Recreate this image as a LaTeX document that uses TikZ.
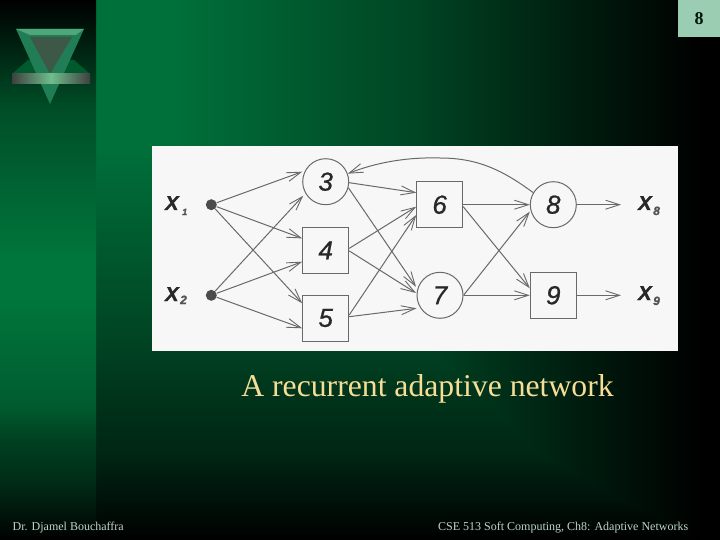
\documentclass[tikz,border=0pt]{standalone}
\usepackage{fontspec}
\setmainfont{Liberation Serif}
\newfontfamily\sansf{Liberation Sans}
\newfontface\digf[FakeBold=0.8]{Liberation Sans Italic}
\newfontface\labf[FakeBold=1.5]{Liberation Sans Bold Italic}
\usetikzlibrary{arrows.meta}
\definecolor{capcol}{RGB}{246,222,150}
\definecolor{footcol}{RGB}{190,212,198}
\definecolor{gA}{RGB}{0,112,58}
\definecolor{gL}{RGB}{0,118,60}
\definecolor{gT}{RGB}{48,150,100}
\definecolor{gE}{RGB}{32,125,85}
\definecolor{gD}{RGB}{62,88,72}
\definecolor{gB}{RGB}{110,190,140}
\definecolor{nline}{RGB}{105,105,105}
\definecolor{nink}{RGB}{40,40,40}
\definecolor{cornerc}{RGB}{155,205,178}
\pgfdeclareverticalshading{stripeshade}{100bp}{
  color(0bp)=(black);
  color(25bp)=(black);
  color(27.8bp)=(black!80!gL);
  color(30.5bp)=(black!62!gL);
  color(34.3bp)=(black!45!gL);
  color(37.5bp)=(black!22!gL);
  color(47.5bp)=(gL);
  color(51bp)=(gL);
  color(65bp)=(black!34!gL);
  color(75bp)=(black);
  color(100bp)=(black)}
\pgfdeclarehorizontalshading{panelshade}{100bp}{
  color(0bp)=(gA);
  color(25bp)=(gA);
  color(31bp)=(gA);
  color(50bp)=(black!37!gA);
  color(63bp)=(black!73!gA);
  color(73.4bp)=(black);
  color(100bp)=(black)}
\pgfdeclareverticalshading{panelvs}{100bp}{
  color(0bp)=(black);
  color(25bp)=(black);
  color(33.3bp)=(black!65!gA);
  color(38bp)=(black!55!gA);
  color(42.5bp)=(black!42!gA);
  color(50bp)=(black!25!gA);
  color(61.5bp)=(gA);
  color(100bp)=(gA)}
\tikzset{
  px/.style={x=1pt,y=-1pt},
  circ/.style={draw=nline,line width=1pt,circle,minimum size=46pt,inner sep=0pt,font=\digf\fontsize{26}{26}\selectfont,text=nink},
  sq/.style={draw=nline,line width=1pt,rectangle,minimum size=46pt,inner sep=0pt,font=\digf\fontsize{26}{26}\selectfont,text=nink},
  dot/.style={circle,fill=black!70,minimum size=11pt,inner sep=0pt},
  lab/.style={font=\labf\fontsize{20}{20}\selectfont,text=nink,inner sep=0pt,anchor=base west},
  sub/.style={font=\labf\fontsize{12}{12}\selectfont,text=nink!80,inner sep=0pt,anchor=base west},
  conn/.style={draw=nline,line width=1pt,-{Straight Barb[length=14pt,width=9pt,line width=0.9pt]}},
  foot/.style={font=\fontsize{12}{12}\selectfont,text=footcol,inner sep=0pt,anchor=west},
}
\begin{document}
\begin{tikzpicture}[px]
\useasboundingbox (0,0) rectangle (720,540);
\begin{pgfscope}
\pgfpathrectangle{\pgfpoint{96pt}{0pt}}{\pgfpoint{624pt}{-540pt}}
\pgfshadepath{panelshade}{0}
\pgfusepath{discard}
\end{pgfscope}
\begin{scope}[blend mode=darken]
\pgfpathrectangle{\pgfpoint{96pt}{0pt}}{\pgfpoint{624pt}{-540pt}}
\pgfshadepath{panelvs}{0}
\pgfusepath{discard}
\end{scope}
\begin{pgfscope}
\pgfpathrectangle{\pgfpoint{0pt}{0pt}}{\pgfpoint{96pt}{-540pt}}
\pgfshadepath{stripeshade}{0}
\pgfusepath{discard}
\end{pgfscope}
% emblem
\fill[gA!80!black] (12,74) -- (28,60) -- (74,60) -- (90,74) -- cycle;
\fill[gE] (16,29) -- (84,29) -- (50,104) -- cycle;
\fill[gT!85!white] (16,29) -- (84,29) -- (76,35) -- (30,35) -- cycle;
\fill[gD] (30,37) -- (72,37) -- (50,74) -- cycle;
\shade[left color=black!75,right color=black!75,middle color=gB] (12,74) rectangle (90,84);
% corner
\fill[cornerc] (678,0) rectangle (720,37);
\node[font=\bfseries\fontsize{18}{18}\selectfont,text=black!80!gA,inner sep=0pt] (pg) at (699,18.5) {8};
% picture panel
\fill[white!97!black] (152,146) rectangle (678,351);
\node[dot] (x1) at (211.3,204.7) {};
\node[dot] (x2) at (211.3,295.3) {};
\node[circ] (n3) at (325.7,181.7) {3};
\node[sq] (n4) at (325.7,250.4) {4};
\node[sq] (n5) at (325.7,318) {5};
\node[sq] (n6) at (439.7,204.7) {6};
\node[circ] (n7) at (440,295.3) {7};
\node[circ] (n8) at (553.3,204.7) {8};
\node[sq] (n9) at (553.3,295.3) {9};
\coordinate (o8) at (621,204.7);
\coordinate (o9) at (621,295.3);
\node[lab] (l1) at (165,210) {X};
\node[sub,font=\labf\fontsize{9}{9}\selectfont] (s1) at (182,215) {1};
\node[lab] (l2) at (165,301) {X};
\node[sub] (s2) at (180,304) {2};
\node[lab] (l8) at (638,210) {X};
\node[sub] (s8) at (653,215) {8};
\node[lab] (l9) at (638,300) {X};
\node[sub] (s9) at (653,305) {9};
% connectors
\draw[conn] (x1) -- ([yshift=10pt]n3.west);
\draw[conn] (x1) -- ([yshift=12pt]n4.west);
\draw[conn] (x1) -- ([yshift=14.7pt]n5.west);
\draw[conn] (x2) -- ([xshift=1pt,yshift=-14pt]n3.west);
\draw[conn] (x2) -- ([yshift=-11.3pt]n4.west);
\draw[conn] (x2) -- ([yshift=-10.3pt]n5.west);
\draw[conn] ([yshift=-1pt]n3.east) -- ([yshift=12pt]n6.west);
\draw[conn] (n3.-15) -- ([xshift=-0.5pt,yshift=8.5pt]n7.west);
\draw[conn] ([yshift=2pt]n4.east) -- ([yshift=-2pt]n6.west);
\draw[conn] ([yshift=-0.5pt]n4.east) -- ([xshift=-0.5pt,yshift=2.3pt]n7.west);
\draw[conn] ([yshift=3pt]n5.east) -- ([yshift=-10.3pt]n6.west);
\draw[conn] ([yshift=1.3pt]n5.east) -- ([yshift=-13pt]n7.west);
\draw[conn] (n6.east) -- (n8.west);
\draw[conn] ([yshift=-2pt]n6.east) -- ([yshift=7pt]n9.west);
\draw[conn] (n7.east) -- ([yshift=-7pt]n8.west);
\draw[conn] (n7.east) -- (n9.west);
\draw[conn] (n8.east) -- (o8);
\draw[conn] (n9.east) -- (o9);
\draw[conn] (n8.149) .. controls (505,172) and (480,158) .. (440,158) .. controls (405,157) and (375,163) .. (n3.20);
\node[font=\fontsize{31.7}{32}\selectfont,text=capcol,inner sep=0pt,anchor=base] (cap) at (427.5,396) {A recurrent adaptive network};
\node[foot] (f1) at (12.5,527.5) {Dr. Djamel Bouchaffra};
\node[foot] (f2) at (438,527.5) {CSE 513 Soft Computing, Ch8: Adaptive Networks};
\end{tikzpicture}
\end{document}
